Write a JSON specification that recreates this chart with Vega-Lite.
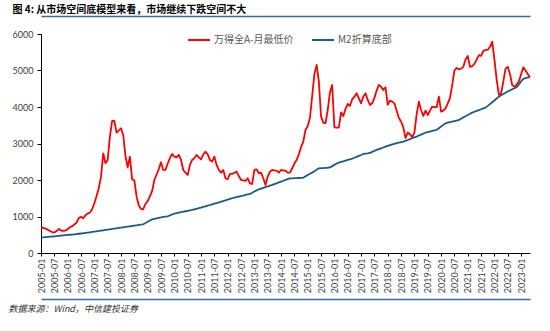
{
"$schema": "https://vega.github.io/schema/vega-lite/v6.json",
"width": 489, "height": 219,
"autosize": {"type": "none"},
"padding": {"left": 41, "top": 34, "right": 20, "bottom": 78},
"background": "white",
"config": {"view": {"stroke": null}, "font": "Lato"},
"data": {"values": [
{"d":"2005-01","A":710,"M":422},{"d":"2005-02","A":690,"M":428},{"d":"2005-03","A":670,"M":434},{"d":"2005-04","A":640,"M":440},{"d":"2005-05","A":600,"M":446},{"d":"2005-06","A":575,"M":452},{"d":"2005-07","A":560,"M":458},{"d":"2005-08","A":600,"M":464},{"d":"2005-09","A":660,"M":470},{"d":"2005-10","A":615,"M":476},{"d":"2005-11","A":610,"M":482},{"d":"2005-12","A":614,"M":488},
{"d":"2006-01","A":650,"M":494},{"d":"2006-02","A":705,"M":500},{"d":"2006-03","A":735,"M":506},{"d":"2006-04","A":780,"M":513},{"d":"2006-05","A":833,"M":520},{"d":"2006-06","A":960,"M":527},{"d":"2006-07","A":990,"M":534},{"d":"2006-08","A":951,"M":541},{"d":"2006-09","A":1030,"M":550},{"d":"2006-10","A":1088,"M":559},{"d":"2006-11","A":1106,"M":568},{"d":"2006-12","A":1200,"M":577},
{"d":"2007-01","A":1362,"M":586},{"d":"2007-02","A":1560,"M":595},{"d":"2007-03","A":1773,"M":604},{"d":"2007-04","A":2092,"M":613},{"d":"2007-05","A":2732,"M":622},{"d":"2007-06","A":2460,"M":631},{"d":"2007-07","A":2550,"M":640},{"d":"2007-08","A":3188,"M":649},{"d":"2007-09","A":3617,"M":658},{"d":"2007-10","A":3617,"M":668},{"d":"2007-11","A":3298,"M":677},{"d":"2007-12","A":3360,"M":686},
{"d":"2008-01","A":3416,"M":695},{"d":"2008-02","A":3234,"M":704},{"d":"2008-03","A":2650,"M":713},{"d":"2008-04","A":2348,"M":722},{"d":"2008-05","A":2640,"M":731},{"d":"2008-06","A":2019,"M":740},{"d":"2008-07","A":1983,"M":750},{"d":"2008-08","A":1550,"M":759},{"d":"2008-09","A":1300,"M":768},{"d":"2008-10","A":1207,"M":777},{"d":"2008-11","A":1198,"M":787},{"d":"2008-12","A":1350,"M":820},
{"d":"2009-01","A":1420,"M":855},{"d":"2009-02","A":1550,"M":890},{"d":"2009-03","A":1700,"M":920},{"d":"2009-04","A":2001,"M":935},{"d":"2009-05","A":2150,"M":950},{"d":"2009-06","A":2300,"M":965},{"d":"2009-07","A":2485,"M":979},{"d":"2009-08","A":2275,"M":988},{"d":"2009-09","A":2275,"M":997},{"d":"2009-10","A":2450,"M":1006},{"d":"2009-11","A":2600,"M":1030},{"d":"2009-12","A":2713,"M":1055},
{"d":"2010-01","A":2640,"M":1078},{"d":"2010-02","A":2622,"M":1095},{"d":"2010-03","A":2686,"M":1108},{"d":"2010-04","A":2549,"M":1120},{"d":"2010-05","A":2275,"M":1132},{"d":"2010-06","A":2200,"M":1144},{"d":"2010-07","A":2138,"M":1156},{"d":"2010-08","A":2412,"M":1168},{"d":"2010-09","A":2549,"M":1180},{"d":"2010-10","A":2600,"M":1196},{"d":"2010-11","A":2686,"M":1212},{"d":"2010-12","A":2620,"M":1228},
{"d":"2011-01","A":2567,"M":1243},{"d":"2011-02","A":2700,"M":1261},{"d":"2011-03","A":2777,"M":1279},{"d":"2011-04","A":2700,"M":1297},{"d":"2011-05","A":2549,"M":1315},{"d":"2011-06","A":2503,"M":1333},{"d":"2011-07","A":2640,"M":1351},{"d":"2011-08","A":2412,"M":1369},{"d":"2011-09","A":2275,"M":1387},{"d":"2011-10","A":2202,"M":1405},{"d":"2011-11","A":2275,"M":1423},{"d":"2011-12","A":2047,"M":1441},
{"d":"2012-01","A":2020,"M":1460},{"d":"2012-02","A":2166,"M":1480},{"d":"2012-03","A":2166,"M":1500},{"d":"2012-04","A":2200,"M":1515},{"d":"2012-05","A":2230,"M":1530},{"d":"2012-06","A":2111,"M":1545},{"d":"2012-07","A":2001,"M":1560},{"d":"2012-08","A":1990,"M":1575},{"d":"2012-09","A":1974,"M":1590},{"d":"2012-10","A":2047,"M":1604},{"d":"2012-11","A":1910,"M":1618},{"d":"2012-12","A":1892,"M":1650},
{"d":"2013-01","A":2275,"M":1685},{"d":"2013-02","A":2293,"M":1715},{"d":"2013-03","A":2184,"M":1745},{"d":"2013-04","A":2202,"M":1765},{"d":"2013-05","A":2047,"M":1785},{"d":"2013-06","A":1864,"M":1805},{"d":"2013-07","A":2093,"M":1825},{"d":"2013-08","A":2230,"M":1845},{"d":"2013-09","A":2275,"M":1865},{"d":"2013-10","A":2265,"M":1888},{"d":"2013-11","A":2257,"M":1910},{"d":"2013-12","A":2202,"M":1933},
{"d":"2014-01","A":2275,"M":1956},{"d":"2014-02","A":2260,"M":1979},{"d":"2014-03","A":2257,"M":2002},{"d":"2014-04","A":2202,"M":2025},{"d":"2014-05","A":2202,"M":2047},{"d":"2014-06","A":2321,"M":2047},{"d":"2014-07","A":2450,"M":2050},{"d":"2014-08","A":2549,"M":2052},{"d":"2014-09","A":2700,"M":2055},{"d":"2014-10","A":2900,"M":2058},{"d":"2014-11","A":3051,"M":2062},{"d":"2014-12","A":3371,"M":2100},
{"d":"2015-01","A":3480,"M":2135},{"d":"2015-02","A":3700,"M":2170},{"d":"2015-03","A":4300,"M":2202},{"d":"2015-04","A":4900,"M":2240},{"d":"2015-05","A":5151,"M":2280},{"d":"2015-06","A":4700,"M":2321},{"d":"2015-07","A":3736,"M":2325},{"d":"2015-08","A":3572,"M":2328},{"d":"2015-09","A":3553,"M":2332},{"d":"2015-10","A":3918,"M":2336},{"d":"2015-11","A":4400,"M":2345},{"d":"2015-12","A":4603,"M":2380},
{"d":"2016-01","A":3444,"M":2415},{"d":"2016-02","A":3435,"M":2450},{"d":"2016-03","A":3435,"M":2476},{"d":"2016-04","A":3850,"M":2495},{"d":"2016-05","A":3750,"M":2513},{"d":"2016-06","A":3950,"M":2531},{"d":"2016-07","A":4083,"M":2549},{"d":"2016-08","A":4028,"M":2567},{"d":"2016-09","A":4211,"M":2586},{"d":"2016-10","A":4284,"M":2610},{"d":"2016-11","A":4375,"M":2635},{"d":"2016-12","A":4238,"M":2660},
{"d":"2017-01","A":4101,"M":2685},{"d":"2017-02","A":4284,"M":2713},{"d":"2017-03","A":4375,"M":2720},{"d":"2017-04","A":4193,"M":2728},{"d":"2017-05","A":4056,"M":2740},{"d":"2017-06","A":4101,"M":2770},{"d":"2017-07","A":4250,"M":2800},{"d":"2017-08","A":4450,"M":2825},{"d":"2017-09","A":4604,"M":2847},{"d":"2017-10","A":4558,"M":2869},{"d":"2017-11","A":4467,"M":2891},{"d":"2017-12","A":4540,"M":2913},
{"d":"2018-01","A":4056,"M":2935},{"d":"2018-02","A":4174,"M":2957},{"d":"2018-03","A":4147,"M":2978},{"d":"2018-04","A":4100,"M":2993},{"d":"2018-05","A":3900,"M":3008},{"d":"2018-06","A":3700,"M":3023},{"d":"2018-07","A":3600,"M":3038},{"d":"2018-08","A":3450,"M":3053},{"d":"2018-09","A":3150,"M":3070},{"d":"2018-10","A":3300,"M":3095},{"d":"2018-11","A":3250,"M":3120},{"d":"2018-12","A":3170,"M":3145},
{"d":"2019-01","A":3300,"M":3168},{"d":"2019-02","A":3800,"M":3190},{"d":"2019-03","A":4147,"M":3218},{"d":"2019-04","A":3919,"M":3245},{"d":"2019-05","A":3754,"M":3272},{"d":"2019-06","A":3900,"M":3298},{"d":"2019-07","A":3780,"M":3313},{"d":"2019-08","A":3900,"M":3328},{"d":"2019-09","A":4010,"M":3343},{"d":"2019-10","A":3995,"M":3358},{"d":"2019-11","A":4000,"M":3375},{"d":"2019-12","A":4284,"M":3420},
{"d":"2020-01","A":3873,"M":3465},{"d":"2020-02","A":3900,"M":3510},{"d":"2020-03","A":3960,"M":3554},{"d":"2020-04","A":4100,"M":3570},{"d":"2020-05","A":4250,"M":3585},{"d":"2020-06","A":4600,"M":3600},{"d":"2020-07","A":5000,"M":3615},{"d":"2020-08","A":5070,"M":3630},{"d":"2020-09","A":5033,"M":3645},{"d":"2020-10","A":5050,"M":3680},{"d":"2020-11","A":5100,"M":3715},{"d":"2020-12","A":5300,"M":3748},
{"d":"2021-01","A":5398,"M":3780},{"d":"2021-02","A":5100,"M":3813},{"d":"2021-03","A":5120,"M":3846},{"d":"2021-04","A":5180,"M":3870},{"d":"2021-05","A":5300,"M":3893},{"d":"2021-06","A":5420,"M":3916},{"d":"2021-07","A":5400,"M":3939},{"d":"2021-08","A":5540,"M":3961},{"d":"2021-09","A":5562,"M":3983},{"d":"2021-10","A":5570,"M":4030},{"d":"2021-11","A":5650,"M":4080},{"d":"2021-12","A":5790,"M":4130},
{"d":"2022-01","A":5300,"M":4180},{"d":"2022-02","A":4750,"M":4232},{"d":"2022-03","A":4330,"M":4284},{"d":"2022-04","A":4375,"M":4320},{"d":"2022-05","A":4700,"M":4355},{"d":"2022-06","A":5050,"M":4390},{"d":"2022-07","A":5100,"M":4425},{"d":"2022-08","A":4900,"M":4455},{"d":"2022-09","A":4600,"M":4485},{"d":"2022-10","A":4550,"M":4515},{"d":"2022-11","A":4620,"M":4545},{"d":"2022-12","A":4700,"M":4620},
{"d":"2023-01","A":4900,"M":4700},{"d":"2023-02","A":5087,"M":4770},{"d":"2023-03","A":5000,"M":4790},{"d":"2023-04","A":4900,"M":4810},{"d":"2023-05","A":4820,"M":4815}
]},
"transform": [{"fold": ["A", "M"], "as": ["s", "v"]}],
"layer": [
{
"mark": {"type": "line", "strokeWidth": 1.8, "strokeJoin": "round"},
"encoding": {
"x": {"field": "d", "type": "ordinal", "sort": null, "scale": {"type": "point", "padding": 0},
"axis": {"orient": "bottom", "title": null, "values": ["2005-01","2005-07","2006-01","2006-07","2007-01","2007-07","2008-01","2008-07","2009-01","2009-07","2010-01","2010-07","2011-01","2011-07","2012-01","2012-07","2013-01","2013-07","2014-01","2014-07","2015-01","2015-07","2016-01","2016-07","2017-01","2017-07","2018-01","2018-07","2019-01","2019-07","2020-01","2020-07","2021-01","2021-07","2022-01","2022-07","2023-01"],
"labelAngle": 270, "labelFontSize": 9, "labelColor": "#404040", "labelFont": "Lato", "labelPadding": 2, "tickSize": 3, "tickColor": "#000", "domainColor": "#000", "domainWidth": 1, "grid": false}},
"y": {"field": "v", "type": "quantitative", "scale": {"domain": [0, 6000], "nice": false},
"axis": {"title": null, "values": [0,1000,2000,3000,4000,5000,6000], "format": "d", "labelFontSize": 9, "labelColor": "#404040", "labelFont": "Lato", "labelPadding": 4, "tickSize": 4, "tickColor": "#000", "domainColor": "#000", "grid": false}},
"color": {"field": "s", "type": "nominal", "scale": {"domain": ["A", "M"], "range": ["#ff0000", "#1c5a8c"]},
"legend": {"orient": "none", "legendX": 146, "legendY": -6, "direction": "horizontal", "title": null, "padding": 0, "symbolType": "stroke", "symbolSize": 484, "symbolStrokeWidth": 2, "labelFont": "Noto Sans CJK SC", "labelFontSize": 10, "labelColor": "#595959", "labelOffset": 3, "columnPadding": 14,
"labelExpr": "datum.label == 'A' ? '万得全A-月最低价' : 'M2折算底部'"}}
}
},
{
"mark": {"type": "point", "opacity": 0},
"encoding": {
"x": {"field": "d", "type": "ordinal", "sort": null, "scale": {"type": "point", "padding": 0},
"axis": {"orient": "top", "offset": 18, "labels": false, "ticks": false, "grid": false, "domainColor": "#2f6ea5", "domainWidth": 1.5,
"title": "图 4: 从市场空间底模型来看，市场继续下跌空间不大", "titleFont": "Noto Sans CJK SC", "titleFontSize": 10, "titleFontWeight": "bold", "titleColor": "#000", "titleAnchor": "start", "titleAlign": "left", "titleBaseline": "middle", "titleX": -29, "titleY": -7}}
}
},
{
"mark": {"type": "point", "opacity": 0},
"encoding": {
"x": {"field": "d", "type": "ordinal", "sort": null, "scale": {"type": "point", "padding": 0},
"axis": {"orient": "bottom", "offset": 46, "labels": false, "ticks": false, "grid": false, "domainColor": "#2f6ea5", "domainWidth": 1.5,
"title": "数据来源：Wind，中信建投证券", "titleFont": "Noto Sans CJK SC", "titleFontSize": 9, "titleFontWeight": "normal", "titleFontStyle": "italic", "titleColor": "#333", "titleAnchor": "start", "titleAlign": "left", "titleBaseline": "middle", "titleX": -33, "titleY": 9}}
}
}
],
"resolve": {"axis": {"x": "independent"}}
}
